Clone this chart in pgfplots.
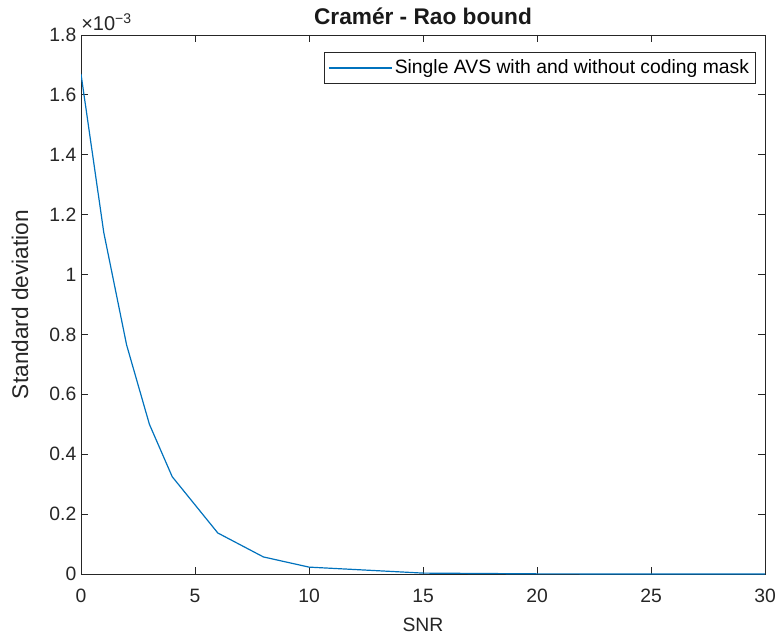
\documentclass[border=0pt]{standalone}
\usepackage{fontspec}
\setmainfont{Liberation Sans}
\usepackage{pgfplots}
\pgfplotsset{compat=1.18}
\definecolor{mblue}{rgb}{0,0.447,0.741}
\definecolor{axgray}{gray}{0.15}
\begin{document}
\begin{tikzpicture}
\useasboundingbox (0,0) rectangle (585pt,479.25pt);
\begin{axis}[
  at={(60.75pt,48.75pt)}, anchor=south west,
  scale only axis, width=513pt, height=404.25pt,
  xmin=0, xmax=30, ymin=0, ymax=0.0018,
  xtick={0,5,10,15,20,25,30},
  ytick={0,0.0002,0.0004,0.0006,0.0008,0.001,0.0012,0.0014,0.0016,0.0018},
  scaled y ticks=base 10:3,
  ytick scale label code/.code={×10\textsuperscript{−3}},
  every y tick scale label/.style={at={(rel axis cs:0,1)}, anchor=base west, xshift=0pt, yshift=3.5pt, inner sep=0pt, font=\fontsize{15}{17}\selectfont, text=axgray},
  /pgf/number format/assume math mode=true,
  tick align=inside, major tick length=5pt,
  axis line style={axgray, line width=0.7pt}, tick style={axgray, line width=0.7pt},
  ticklabel style={font=\fontsize{14.5}{16}\selectfont, text=axgray},
  xticklabel style={yshift=-8pt},
  xlabel={SNR}, ylabel={Standard deviation},
  xlabel style={at={(axis description cs:0.5,-0.095)}, anchor=center, font=\fontsize{14.5}{16}\selectfont, text=axgray},
  ylabel style={at={(axis description cs:-0.0892,0.5)}, anchor=center, font=\fontsize{17}{19}\selectfont, text=axgray},
  title={Cramér - Rao bound},
  title style={at={(axis description cs:0.5,1)}, anchor=base, yshift=1.5pt, font=\bfseries\fontsize{17}{19}\selectfont, text=black!90},
  legend style={at={(rel axis cs:1,1)}, anchor=north east, xshift=-6.75pt, yshift=-13pt, draw=axgray, font=\fontsize{14.5}{16}\selectfont, inner xsep=3pt, inner ysep=3.5pt},
  legend cell align=left,
  legend image code/.code={\draw[#1] (0pt,0pt) -- (47pt,0pt);},
]
\addplot[mblue, line width=0.9pt] coordinates {
  (0,0.00167) (1,0.00114) (2,0.000765) (3,0.000500) (4,0.000325)
  (6,0.000137) (8,0.000057) (10,0.000023) (15,0.000003)
  (20,0.0000005) (25,0.0000001) (30,0.00000002)
};
\addlegendentry{Single AVS with and without coding mask}
\end{axis}
\end{tikzpicture}
\end{document}
